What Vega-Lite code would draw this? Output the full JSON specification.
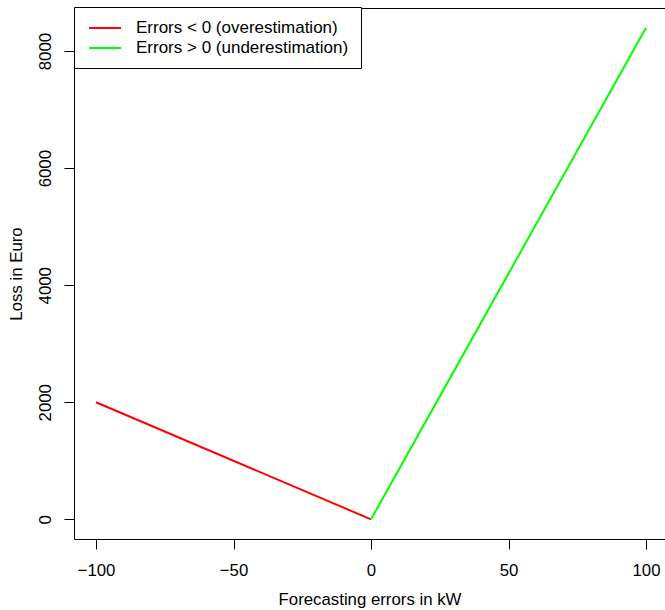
{
  "$schema": "https://vega.github.io/schema/vega-lite/v6.json",
  "width": 591,
  "height": 531,
  "autosize": {"type": "none"},
  "padding": {"left": 74, "top": 8, "right": 0, "bottom": 71},
  "background": "white",
  "config": {
    "view": {"stroke": null},
    "font": "Liberation Sans",
    "axis": {
      "domainColor": "black",
      "domainWidth": 1,
      "tickColor": "black",
      "tickSize": 10,
      "tickWidth": 1,
      "grid": false,
      "labelFont": "Liberation Sans",
      "titleFont": "Liberation Sans",
      "labelFontSize": 16.8,
      "titleFontSize": 16.8,
      "labelColor": "black",
      "titleColor": "black",
      "titleFontWeight": "normal"
    }
  },
  "data": {
    "values": [
      {"error": -100, "loss": 2000, "series": "Errors < 0 (overestimation)"},
      {"error": 0, "loss": 0, "series": "Errors < 0 (overestimation)"},
      {"error": 0, "loss": 0, "series": "Errors > 0 (underestimation)"},
      {"error": 100, "loss": 8400, "series": "Errors > 0 (underestimation)"}
    ]
  },
  "layer": [
    {
      "mark": {"type": "line", "strokeWidth": 2, "clip": true},
      "encoding": {
        "x": {
          "field": "error", "type": "quantitative",
          "scale": {"domain": [-108, 106.9], "nice": false, "zero": false},
          "axis": {"orient": "bottom", "values": [-100, -50, 0, 50, 100], "title": "Forecasting errors in kW", "labelBaseline": "alphabetic", "labelPadding": 26, "titleBaseline": "alphabetic", "titleY": 65, "labelFlush": false, "labelOverlap": false}
        },
        "y": {
          "field": "loss", "type": "quantitative",
          "scale": {"domain": [-336, 8736], "nice": false, "zero": false},
          "axis": {"values": [0, 2000, 4000, 6000, 8000], "format": "d", "title": "Loss in Euro", "labelAngle": -90, "labelAlign": "center", "labelBaseline": "alphabetic", "labelPadding": 14, "titleBaseline": "alphabetic", "titleX": -53, "labelFlush": false, "labelOverlap": false}
        },
        "color": {
          "field": "series", "type": "nominal",
          "scale": {"domain": ["Errors < 0 (overestimation)", "Errors > 0 (underestimation)"], "range": ["#ff0000", "#00ff00"]},
          "legend": {
            "orient": "none", "legendX": 0, "legendY": -1,
            "title": null,
            "strokeColor": "black", "fillColor": "white",
            "padding": 12,
            "symbolType": "M-2,0H2",
            "symbolSize": 256,
            "symbolStrokeWidth": 2,
            "symbolOffset": 10,
            "labelOffset": 22,
            "labelFontSize": 17,
            "labelFont": "Liberation Sans",
            "labelColor": "black",
            "labelLimit": 400,
            "rowPadding": 3
          }
        }
      }
    },
    {
      "mark": {"type": "rule", "opacity": 0},
      "encoding": {
        "x": {
          "field": "error", "type": "quantitative",
          "axis": {"orient": "top", "labels": false, "ticks": false, "domain": true, "title": null}
        }
      }
    }
  ],
  "resolve": {"axis": {"x": "independent"}}
}
